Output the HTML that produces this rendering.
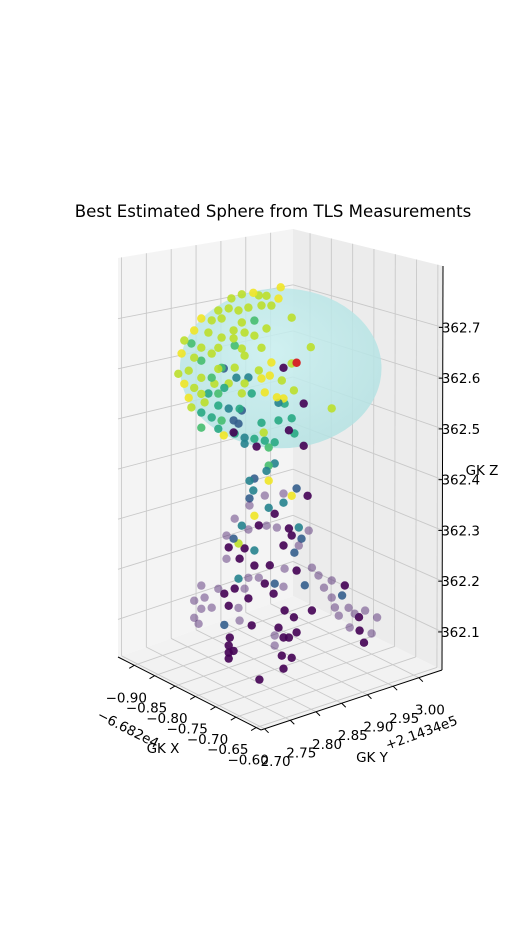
<!DOCTYPE html>
<html><head><meta charset="utf-8"><style>
html,body{margin:0;padding:0;background:#fff;}
svg{display:block;font-family:"DejaVu Sans","Liberation Sans",sans-serif;}
</style></head><body>
<svg id="chart" width="532" height="940" viewBox="0 0 532 940" xmlns="http://www.w3.org/2000/svg">
<text x="273" y="217" font-size="16.6" text-anchor="middle" fill="#000">Best Estimated Sphere from TLS Measurements</text>
<g id="panes"></g>
<g id="grid"></g>
<g id="axes"></g>
<g id="sphere"></g>
<g id="points"></g>
<g id="labels"></g>
<text x="163" y="753" font-size="13.5" text-anchor="middle">GK X</text>
<text x="126" y="733" font-size="13.5" text-anchor="middle" transform="rotate(27 126 733)">−6.682e4</text>
<text x="372" y="762" font-size="13.5" text-anchor="middle">GK Y</text>
<text x="423" y="737" font-size="13.5" text-anchor="middle" transform="rotate(-20 423 737)">+2.1434e5</text>
<text x="482" y="475" font-size="13.5" text-anchor="middle">GK Z</text>
</svg>
<script>
const xTicks=[-0.90,-0.85,-0.80,-0.75,-0.70,-0.65,-0.60];
const yTicks=[2.70,2.75,2.80,2.85,2.90,2.95,3.00];
const zTicks=[362.1,362.2,362.3,362.4,362.5,362.6,362.7];
const xTickLabels=["−0.90","−0.85","−0.80","−0.75","−0.70","−0.65","−0.60"];
const yTickLabels=["2.70","2.75","2.80","2.85","2.90","2.95","3.00"];
const zTickLabels=["362.1","362.2","362.3","362.4","362.5","362.6","362.7"];
const xRange=[-0.94,-0.588];
const yRange=[2.693,3.045];
const zRange=[362.025,362.821];
const sphereCenter=[-0.75,2.853,362.611];
const sphereRadius=[0.159];
const centerPoint=[-0.75,2.882,362.611];
const ptX=[];
const ptY=[2.853,2.803,2.782,2.763,2.813,2.827,2.849,2.739,2.758,2.776,2.794,2.818,2.836,2.873,2.708,2.727,2.745,2.782,2.805,2.767,2.787,2.827,2.695,2.721,2.745,2.767,2.805,2.690,2.677,2.708,2.739,2.782,2.818,2.908,2.672,2.695,2.727,2.787,2.836,2.873,2.858,2.666,2.685,2.708,2.739,2.769,2.813,2.833,2.677,2.695,2.732,2.758,2.787,2.818,2.855,2.877,2.946,2.685,2.708,2.739,2.782,2.824,2.846,2.858,2.690,2.714,
2.769,2.708,2.745,2.772,2.794,2.727,2.750,2.800,2.721,2.739,2.758,2.778,2.849,2.860,2.708,2.727,2.745,2.767,2.818,2.849,2.873,2.878,2.769,2.787,2.805,2.824,2.842,2.787,2.831,2.708,2.739,
2.749,2.895,2.782,2.868,2.776,2.767,2.809,2.895,2.749,2.822,
2.842,2.831,2.827,2.796,2.805,2.831,2.803,2.796,2.824,2.831,2.858,2.858,2.873,2.882,2.902,2.842,2.796,2.805,2.769,2.782,2.794,2.813,2.827,2.846,2.868,2.886,2.904,2.873,2.891,2.754,2.767,2.776,2.805,2.858,2.758,2.787,2.886,2.878,2.778,2.754,2.833,2.805,2.860,2.882,2.910,2.922,2.946,2.970,2.897,2.932,2.824,2.842,2.858,2.840,2.776,2.794,2.813,2.769,2.787,2.708,2.739,2.714,2.750,2.695,2.727,2.758,2.776,2.794,2.708,2.695,2.703,2.750,2.778,2.800,2.860,2.877,2.910,2.946,2.965,2.977,2.952,2.988,3.007,3.029,2.996,2.979,2.997,3.019,3.005,2.959,2.849,2.858,2.868,2.842,2.882,2.842,2.855,2.873,2.858,2.814,2.760,2.758,2.767,2.758,2.758];
const ptZ=[362.772,362.780,362.785,362.784,362.771,362.765,362.751,362.769,362.766,362.755,362.754,362.749,362.742,362.704,362.765,362.754,362.751,362.729,362.724,362.719,362.707,362.700,362.746,362.732,362.713,362.703,362.694,362.722,362.733,362.707,362.695,362.677,362.665,362.632,362.709,362.692,362.688,362.661,362.629,362.613,362.610,362.671,362.670,362.647,362.653,362.644,362.622,362.604,362.647,362.632,362.626,362.617,362.606,362.604,362.586,362.558,362.496,362.616,362.615,362.604,362.588,362.574,362.556,362.549,362.595,362.596,
362.688,362.681,362.653,362.623,362.615,362.640,362.611,362.581,362.611,362.580,362.567,362.559,362.544,362.538,362.578,362.561,362.548,362.540,362.516,362.509,362.504,362.472,362.513,362.498,362.489,362.478,362.468,362.486,362.462,362.548,362.534,
362.650,362.525,362.554,362.482,362.530,362.516,362.472,362.441,362.517,362.495,
362.426,362.426,362.417,362.409,362.410,362.396,362.387,362.374,362.369,362.342,362.360,362.342,362.350,362.361,362.339,362.326,362.360,362.336,362.344,362.325,362.313,362.314,362.308,362.297,362.287,362.282,362.269,362.271,362.258,362.316,362.305,362.292,362.267,362.257,362.291,362.278,362.246,362.235,362.261,362.270,362.227,362.237,362.210,362.198,362.193,362.173,362.154,362.135,362.163,362.145,362.194,362.187,362.175,362.168,362.222,362.217,362.210,362.205,362.198,362.234,362.216,362.208,362.202,362.209,362.183,362.175,362.164,362.176,362.188,362.175,362.160,362.140,362.138,362.120,362.127,362.107,362.108,362.120,362.117,362.088,362.098,362.072,362.071,362.049,362.062,362.048,362.035,362.021,362.008,362.079,362.097,362.074,362.070,362.084,362.075,362.064,362.039,362.028,362.012,362.007,362.111,362.096,362.082,362.082,362.070];
const ptC=[0.98,0.98,0.9,0.9,0.9,0.9,0.98,0.9,0.9,0.9,0.9,0.9,0.9,0.9,0.98,0.9,0.9,0.9,0.70,0.9,0.9,0.9,0.98,0.9,0.9,0.9,0.9,0.70,0.9,0.9,0.9,0.9,0.9,0.9,0.98,0.9,0.9,0.9,0.98,0.9,0.0,0.9,0.9,0.9,0.9,0.9,0.9,0.98,0.98,0.9,0.9,0.9,0.9,0.98,0.9,0.9,0.9,0.98,0.9,0.70,0.9,0.98,0.98,0.98,0.9,0.9,
0.70,0.70,0.70,0.45,0.45,0.70,0.60,0.60,0.60,0.60,0.45,0.60,0.45,0.60,0.60,0.60,0.70,0.30,0.60,0.60,0.60,0.60,0.60,0.45,0.60,0.60,0.60,0.45,0.70,0.70,0.60,
0.30,0.0,0.30,0.0,0.30,0.0,0.0,0.0,0.98,0.9,
0.45,0.70,0.45,0.45,0.30,0.98,0.45,0.30,0.07,0.45,0.07,0.45,0.98,0.30,0.0,0.0,0.07,0.98,0.07,0.45,0.07,0.0,0.07,0.07,0.0,0.45,0.07,0.0,0.30,0.07,0.30,0.9,0.45,0.0,0.0,0.0,0.07,0.30,0.0,0.07,0.0,0.0,0.07,0.0,0.07,0.07,0.07,0.0,0.30,0.07,0.0,0.30,0.07,0.0,0.45,0.07,0.07,0.0,0.07,0.07,0.07,0.07,0.0,0.07,0.07,0.0,0.07,0.0,0.07,0.07,0.07,0.30,0.07,0.0,0.0,0.0,0.0,0.07,0.30,0.07,0.07,0.07,0.07,0.07,0.0,0.07,0.0,0.07,0.0,0.07,0.0,0.0,0.0,0.07,0.0,0.07,0.0,0.0,0.0,0.0,0.0,0.0,0.0,0.0,0.0];
for(let i=0;i<ptY.length;i++){ptX.push(-0.75);}

const NS="http://www.w3.org/2000/svg";
function mk(tag,attrs,parent){const e=document.createElementNS(NS,tag);for(const k in attrs)e.setAttribute(k,attrs[k]);parent.appendChild(e);return e;}
const C={lb:[118,657],bb:[293,596],rb:[442,670],fb:[261,730],lt:[118,258],bt:[293,229],rt:[443,266]};
function lerp(a,b,t){return [a[0]+(b[0]-a[0])*t,a[1]+(b[1]-a[1])*t];}
function fx(x){return (x-xRange[0])/(xRange[1]-xRange[0]);}
function fy(y){return (y-yRange[0])/(yRange[1]-yRange[0]);}
function fz(z){return (z-zRange[0])/(zRange[1]-zRange[0]);}
function proj(x,y,z){
  const u=(-0.579-x)/0.349, v=(y-2.69)/0.325, w=(z-362.025)/0.795;
  return [262-144*u+178*v, 730-73*u-62*v-400*w];
}
const panes=document.getElementById('panes');
let pq=mk('polygon',{points:[C.lb,C.bb,C.bt,C.lt].map(q=>q.join(',')).join(' '),fill:'#f4f4f4'},panes);


pq=mk('polygon',{points:[C.bb,C.rb,C.rt,C.bt].map(q=>q.join(',')).join(' '),fill:'#ececec'},panes);


pq=mk('polygon',{points:[C.bb,C.lb,C.fb,C.rb].map(q=>q.join(',')).join(' '),fill:'#f2f2f2'},panes);


const grid=document.getElementById('grid');
function line(a,b,parent,stroke,w,name){const l=mk('line',{x1:a[0],y1:a[1],x2:b[0],y2:b[1],stroke:stroke,'stroke-width':w},parent);
  
  
  return l;}
const gc='#c9c9c9';
yTicks.forEach(t=>{const f=fy(t);
  line(lerp(C.lb,C.bb,f),lerp(C.lt,C.bt,f),grid,gc,0.9,'left-pane-grid-y');
  line(lerp(C.fb,C.rb,f),lerp(C.lb,C.bb,f),grid,gc,0.9,'floor-grid-y');});
xTicks.forEach(t=>{const f=fx(t);
  line(lerp(C.bb,C.rb,f),lerp(C.bt,C.rt,f),grid,gc,0.9,'right-pane-grid-x');
  line(lerp(C.lb,C.fb,f),lerp(C.bb,C.rb,f),grid,gc,0.9,'floor-grid-x');});
zTicks.forEach(t=>{const f=fz(t);
  const a=lerp(C.lb,C.lt,f),b=lerp(C.bb,C.bt,f),c=lerp(C.rb,C.rt,f);
  line(a,b,grid,gc,0.9,'left-pane-grid-z');line(b,c,grid,gc,0.9,'right-pane-grid-z');});
const axes=document.getElementById('axes');
line(C.lb,C.fb,axes,'#000',1,'x-axis-line');
line(C.fb,C.rb,axes,'#000',1,'y-axis-line');
line(C.rb,C.rt,axes,'#000',1,'z-axis-line');
const labels=document.getElementById('labels');
function txt(s,x,y,anchor,name){const t=mk('text',{x:x,y:y,'font-size':13.5,'text-anchor':anchor},labels);t.textContent=s;
  
  
  return t;}
xTicks.forEach((t,i)=>{const f=fx(t);const a=lerp(C.lb,C.fb,f);
  line(a,[a[0]-5,a[1]+3],axes,'#000',1,'x-tick');
  txt(xTickLabels[i],a[0]-8,a[1]+37,'middle','x-tick-label');});
yTicks.forEach((t,i)=>{const f=fy(t);const a=lerp(C.fb,C.rb,f);
  line(a,[a[0]+4,a[1]+4],axes,'#000',1,'y-tick');
  txt(yTickLabels[i],a[0]+11,a[1]+37,'middle','y-tick-label');});
zTicks.forEach((t,i)=>{const f=fz(t);const a=lerp(C.rb,C.rt,f);
  line([a[0]-4,a[1]],a,axes,'#000',1,'z-tick');
  txt(zTickLabels[i],a[0]-1,a[1]+5,'start','z-tick-label');});
const sg=document.getElementById('sphere');
const defs=mk('defs',{},sg);
const rg=mk('radialGradient',{id:'sgrad',cx:'0.45',cy:'0.4',r:'0.65'},defs);
mk('stop',{offset:'0','stop-color':'#c9f0f0'},rg);mk('stop',{offset:'1','stop-color':'#b3e1e2'},rg);
const sc=proj(sphereCenter[0],sphereCenter[1],sphereCenter[2]);
const sTop=proj(sphereCenter[0],sphereCenter[1],sphereCenter[2]+sphereRadius[0]);
const sRy=sc[1]-sTop[1];
const el=mk('ellipse',{cx:sc[0],cy:sc[1],rx:sRy*1.26,ry:sRy,fill:'url(#sgrad)',opacity:0.85},sg);


const V=[[68,1,84],[72,40,120],[62,73,137],[49,104,142],[38,130,142],[31,158,137],[53,183,121],[109,205,89],[180,222,44],[253,231,37]];
function viridis(c){c=Math.max(0,Math.min(1,c));const s=c*9,i=Math.min(8,Math.floor(s)),t=s-i;const a=V[i],b=V[i+1];
  return 'rgb('+[0,1,2].map(k=>Math.round(a[k]+(b[k]-a[k])*t)).join(',')+')';}
const pg=document.getElementById('points');
const nPts=Math.min(ptX.length,ptY.length,ptZ.length,ptC.length);
const order=[];for(let i=0;i<nPts;i++)order.push(i);
order.sort((a,b)=>ptY[b]-ptY[a]);
order.forEach(i=>{const q=proj(ptX[i],ptY[i],ptZ[i]);
  const light=ptC[i]>0.03&&ptC[i]<0.1;
  const c=mk('circle',{cx:q[0].toFixed(1),cy:q[1].toFixed(1),r:4.2,fill:viridis(ptC[i]),opacity:light?0.45:0.9},pg);
  
  });
const cq=proj(centerPoint[0],centerPoint[1],centerPoint[2]);
const cp=mk('circle',{cx:cq[0],cy:cq[1],r:4.2,fill:'#d62728'},pg);


</script>
</body></html>
